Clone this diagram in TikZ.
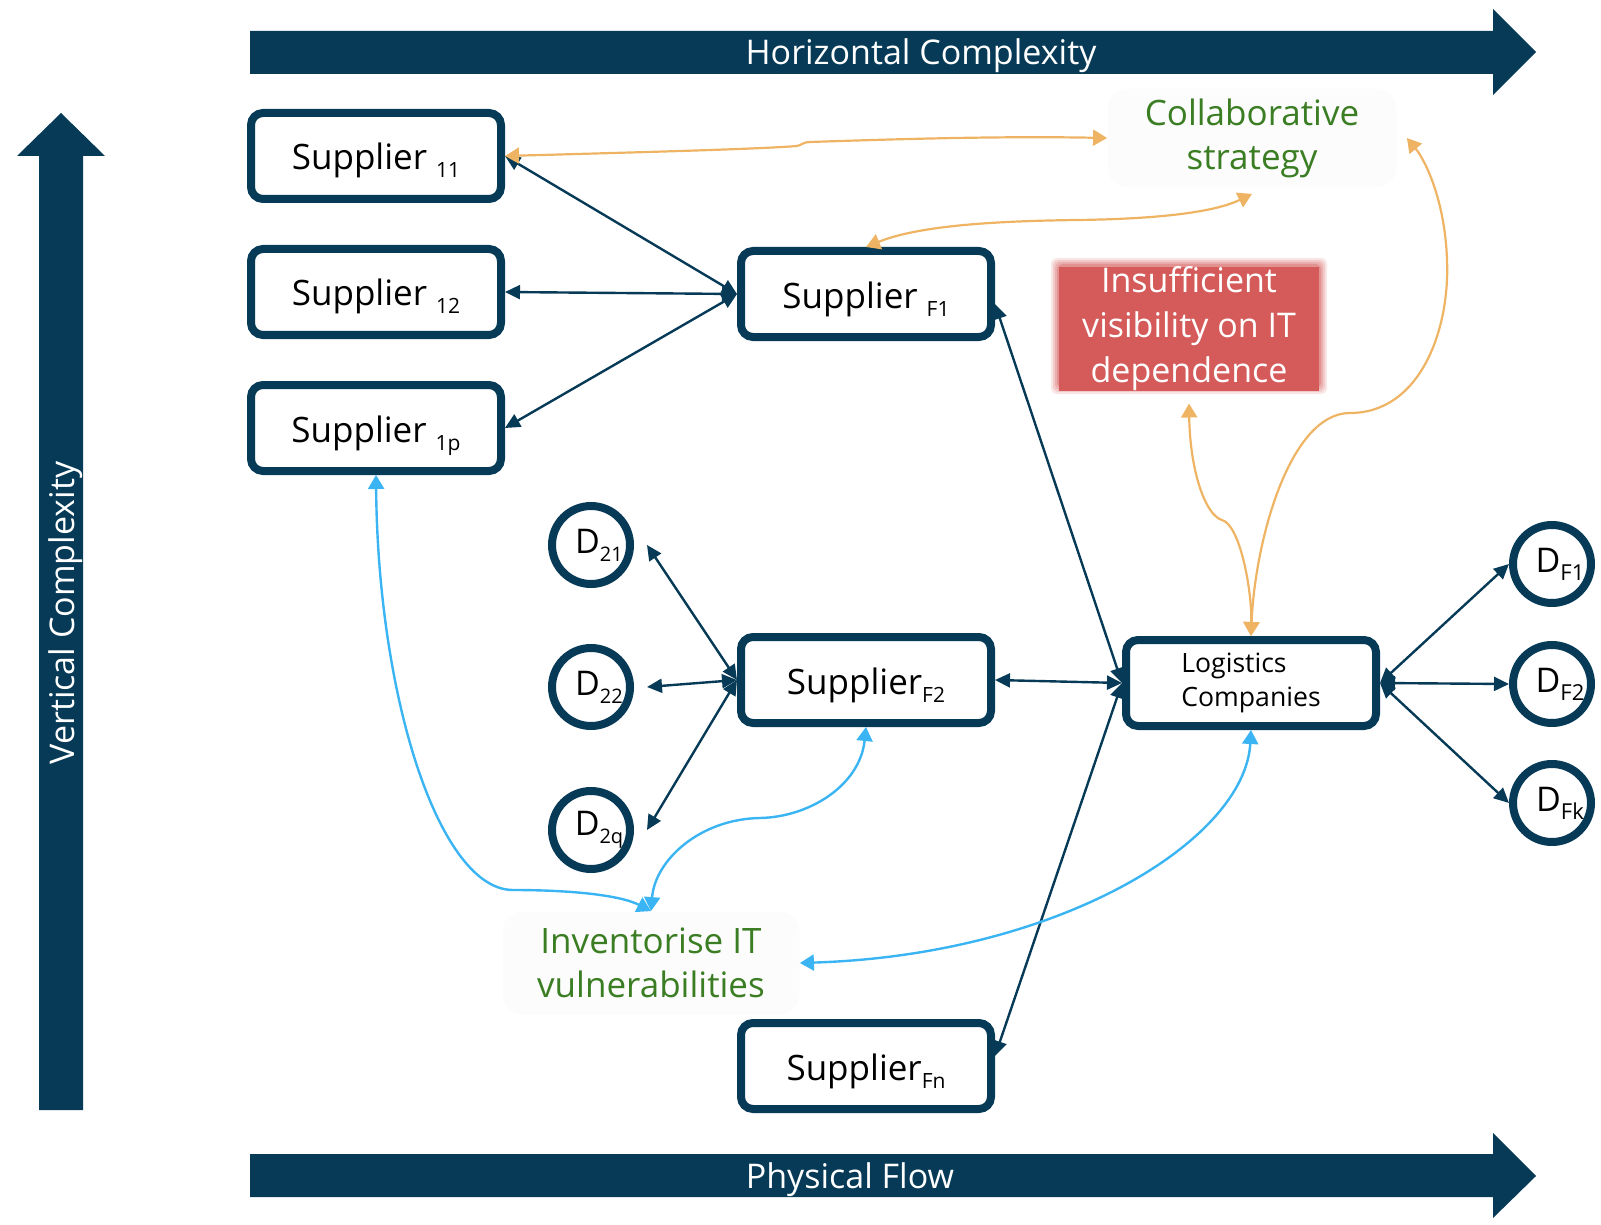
\documentclass[tikz,border=0pt]{standalone}
\usepackage{fontspec}
\setmainfont{Open Sans}
\usetikzlibrary{arrows.meta}
\definecolor{navy}{RGB}{6,58,86}
\definecolor{orng}{RGB}{238,180,100}
\definecolor{skyb}{RGB}{58,180,242}
\definecolor{grn}{RGB}{59,125,35}
\definecolor{redbox}{RGB}{212,91,89}
\definecolor{faint}{RGB}{252,252,252}
\newcommand{\sbs}[2][10.5]{\raisebox{-4pt}{\fontsize{#1}{12}\selectfont #2}}
\newcommand{\ctxt}[1]{\makebox[0pt]{\hspace*{8pt}#1}}
\begin{document}
\begin{tikzpicture}[x=0.5pt,y=-0.5pt,
  sbox/.style={draw=navy, line width=4pt, rounded corners=6pt, minimum width=125pt,
    minimum height=43pt, inner sep=0pt, fill=white, font=\fontsize{17.5}{22}\selectfont,
    text height=15pt, text depth=1pt},
  dcirc/.style={draw=navy, line width=4pt, circle, minimum size=39pt, inner sep=0pt,
    fill=white, font=\fontsize{17}{20}\selectfont},
  darr/.style={navy, line width=1.2pt, >={Triangle[length=7.5pt,width=7pt]}, <->},
  oarr/.style={orng, line width=1.1pt, >={Triangle[length=7pt,width=8pt]}, <->},
  barr/.style={skyb, line width=1.2pt, >={Triangle[length=7pt,width=8pt]}, <->},
  axistext/.style={text=white, font=\fontsize{17}{20}\selectfont, inner sep=0pt},
  greenbox/.style={fill=faint, rounded corners=10pt, text=grn, align=center,
    font=\fontsize{17.5}{22}\selectfont, inner sep=0pt}
]
\useasboundingbox (0,0) rectangle (1601,1225);

% block arrows
\fill[navy] (250,31) -- (1493,31) -- (1493,9) -- (1536,52) -- (1493,95) -- (1493,74) -- (250,74) -- cycle;
\fill[navy] (250,1154) -- (1493,1154) -- (1493,1133) -- (1536,1176) -- (1493,1218) -- (1493,1197) -- (250,1197) -- cycle;
\fill[navy] (39,1110) -- (39,156) -- (17,156) -- (61,113) -- (105,156) -- (83,156) -- (83,1110) -- cycle;
\node[axistext, anchor=base] (htxt) at (921,65) {Horizontal Complexity};
\node[axistext, anchor=base] (ptxt) at (850,1188) {Physical Flow};
\node[axistext, anchor=base, rotate=90] (vtxt) at (74,613) {Vertical Complexity};

% text boxes
\node[greenbox, minimum width=144.5pt, minimum height=49.5pt] (Collab) at (1252,138) {Collaborative\\strategy};
\node[greenbox, minimum width=148.5pt, minimum height=51.5pt] (Inv) at (651,963) {Inventorise IT\\vulnerabilities};
\foreach \d/\o in {8/0.15,6/0.2,4/0.25,2/0.35}{
  \fill[redbox, opacity=\o, rounded corners=3pt] (1059-\d,266-\d) rectangle (1319+\d,386+\d);
}
\node[fill=redbox, minimum width=130pt, minimum height=60pt, inner sep=0pt, text=white,
  align=center, font=\fontsize{17}{22.5}\selectfont] (Insuf) at (1189,329)
  {Insufficient\\visibility on IT\\dependence};

% supplier boxes
\node[sbox] (S11) at (376,156) {Supplier \sbs{11}};
\node[sbox] (S12) at (376,292) {Supplier \sbs{12}};
\node[sbox] (S1p) at (376,428) {Supplier \sbs{1p}};
\node[sbox] (SF1) at (866,294) {Supplier \sbs{F1}};
\node[sbox] (SF2) at (866,680) {Supplier\sbs{F2}};
\node[sbox] (SFn) at (866,1066) {Supplier\sbs{Fn}};
\node[draw=navy, line width=4pt, rounded corners=6pt, minimum width=125pt,
  minimum height=43pt, inner sep=0pt, fill=white, align=left,
  font=\fontsize{13.3}{17}\selectfont] (Log) at (1251,683) {Logistics\\Companies};

% circles
\node[dcirc] (D21) at (591,545) {\ctxt{D\sbs[10]{21}}};
\node[dcirc] (D22) at (591,687) {\ctxt{D\sbs[10]{22}}};
\node[dcirc] (D2q) at (591,830) {\ctxt{D\sbs[10]{2q}}};
\node[dcirc] (DF1) at (1552,564) {\ctxt{D\sbs[11]{F1}}};
\node[dcirc] (DF2) at (1552,684) {\ctxt{D\sbs[11]{F2}}};
\node[dcirc] (DFk) at (1552,803) {\ctxt{D\sbs[11]{Fk}}};

% dark connectors
\draw[darr] (S11.east) -- (SF1.west);
\draw[darr] (S12.east) -- (SF1.west);
\draw[darr] (S1p.east) -- (SF1.west);
\draw[darr] ([yshift=-5pt]SF1.east) -- (Log.west);
\draw[darr] (SF2.east) -- (Log.west);
\draw[darr] ([yshift=5pt]SFn.east) -- (Log.west);
\draw[darr] (SF2.west) -- ([xshift=6.5pt]D21.east);
\draw[darr] (SF2.west) -- ([xshift=6.5pt]D22.east);
\draw[darr] (SF2.west) -- ([xshift=6.5pt]D2q.east);
\draw[darr] (Log.east) -- (DF1.west);
\draw[darr] (Log.east) -- (DF2.west);
\draw[darr] (Log.east) -- (DFk.west);

% orange connectors
\draw[oarr] (S11.east) .. controls (650,152) and (760,149) .. (797,146)
  .. controls (802,145) and (803,142) .. (810,142)
  .. controls (900,139) and (1000,136) .. (Collab.west);
\draw[oarr] (SF1.north) .. controls (920,225) and (1000,221) .. (1077,220)
  .. controls (1160,219) and (1215,212) .. ([yshift=-3pt]Collab.south);
\draw[oarr] (Log.north) .. controls (1255,540) and (1290,413) .. (1350,413)
  .. controls (1420,413) and (1450,330) .. (1447,260)
  .. controls (1445,200) and (1425,160) .. ([xshift=5pt]Collab.east);
\draw[oarr] (Log.north) .. controls (1252,590) and (1240,525) .. (1222,520)
  .. controls (1205,515) and (1190,470) .. ([yshift=-6pt]Insuf.south);

% blue connectors
\draw[barr] (S1p.south) .. controls (378,700) and (440,890) .. (513,890)
  .. controls (570,890) and (620,895) .. (Inv.north);
\draw[barr] (SF2.south) .. controls (860,785) and (810,817) .. (760,818)
  .. controls (700,819) and (655,860) .. (Inv.north);
\draw[barr] (Log.south) .. controls (1245,840) and (1060,955) .. (Inv.east);
\end{tikzpicture}
\end{document}
